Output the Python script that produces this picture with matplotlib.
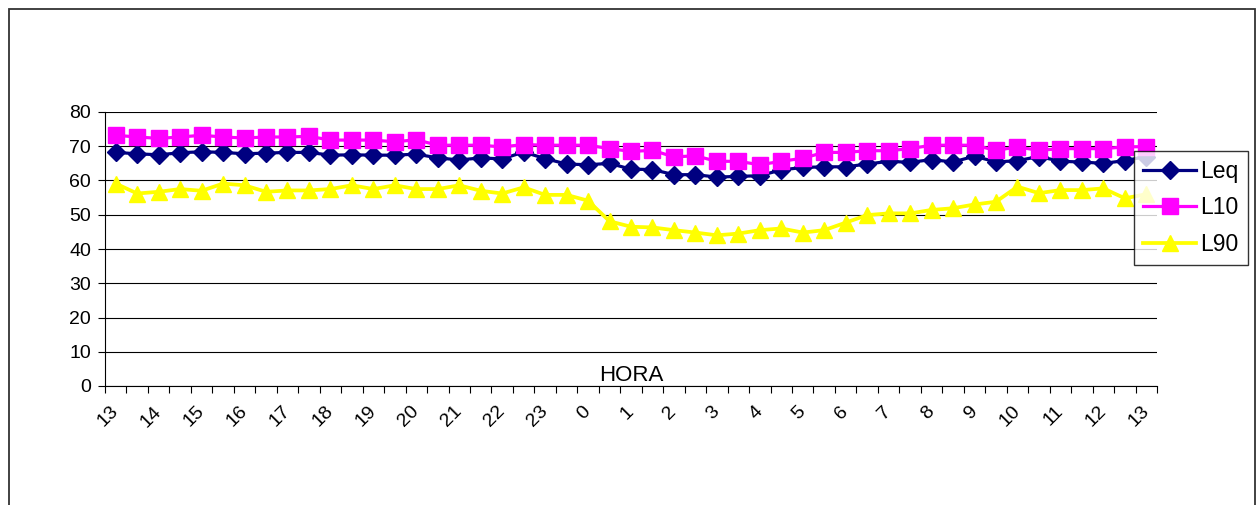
import numpy as np
import matplotlib
matplotlib.use("Agg")
import matplotlib.pyplot as plt
from matplotlib.patches import Rectangle

# horas (cada media hora, de 13 a 13 del dia siguiente)
hours = [13, 14, 15, 16, 17, 18, 19, 20, 21, 22, 23, 0, 1, 2, 3, 4, 5, 6, 7, 8, 9, 10, 11, 12, 13]

leq = [68.2, 67.8, 67.5, 68.1, 68.4, 68.2, 67.8, 68.0, 68.2, 68.2,
       67.4, 67.5, 67.4, 67.4, 67.7, 66.6, 66.0, 66.6, 66.3, 68.3,
       66.4, 64.8, 64.6, 65.0, 63.3, 63.2, 61.7, 61.7, 61.0, 61.2,
       61.4, 63.1, 63.8, 64.0, 64.0, 64.8, 65.6, 65.3, 66.1, 65.4,
       67.1, 65.4, 65.8, 67.0, 65.6, 65.4, 65.0, 65.8, 67.0]

l10 = [73.2, 72.7, 72.3, 72.7, 73.2, 72.7, 72.4, 72.7, 72.7, 72.9,
       71.8, 71.8, 71.8, 71.3, 71.9, 70.3, 70.3, 70.3, 69.8, 70.5,
       70.3, 70.3, 70.3, 69.3, 68.5, 68.8, 66.9, 67.2, 65.6, 65.6,
       64.6, 65.6, 66.5, 68.2, 68.2, 68.7, 68.7, 69.3, 70.3, 70.3,
       70.3, 68.8, 69.8, 68.8, 69.3, 69.3, 69.3, 69.8, 69.9]

l90 = [59.1, 56.2, 56.7, 57.5, 57.0, 59.1, 58.6, 56.7, 57.1, 57.1,
       57.5, 58.6, 57.5, 58.6, 57.5, 57.5, 58.6, 57.0, 56.2, 58.0,
       55.8, 55.8, 54.1, 48.1, 46.5, 46.3, 45.5, 44.8, 44.0, 44.5,
       45.5, 46.0, 44.8, 45.5, 47.7, 49.9, 50.4, 50.4, 51.4, 51.9,
       53.0, 53.8, 58.2, 56.3, 57.2, 57.2, 57.7, 54.8, 56.0]

plt.rcParams['font.family'] = ['Liberation Sans', 'DejaVu Sans']

W, H = 1258, 505
fig = plt.figure(figsize=(W / 100, H / 100), dpi=100)
ax = fig.add_axes([105 / W, 1 - 386 / H, (1157 - 105) / W, (386 - 112) / H])

x = np.arange(len(leq))
ax.plot(x, leq, color='#000080', lw=2.3, marker='D', ms=9, label='Leq', zorder=3)
ax.plot(x, l10, color='#FF00FF', lw=2.3, marker='s', ms=11, label='L10', zorder=4)
ax.plot(x, l90, color='#FFFF00', lw=2.7, marker='^', ms=12, label='L90', zorder=3)

ax.set_xlim(-0.5, len(leq) - 0.5)
ax.set_ylim(0, 80)
ax.set_yticks(np.arange(0, 81, 10))
ax.yaxis.grid(True, color='black', lw=0.8)
ax.set_axisbelow(True)

ax.set_xticks(np.arange(0, len(leq), 2))
ax.set_xticklabels([str(h) for h in hours], rotation=45, ha='right', va='center',
                   rotation_mode='anchor')
ax.set_xticks(np.arange(-0.5, len(leq), 1), minor=True)
ax.tick_params(axis='x', which='major', length=0, pad=16.5, labelsize=14)
ax.tick_params(axis='x', which='minor', length=5, width=0.8, direction='out')
ax.tick_params(axis='y', length=5, width=0.8, direction='out', pad=5, labelsize=14)

for s in ['top', 'right']:
    ax.spines[s].set_visible(False)
for s in ['left', 'bottom']:
    ax.spines[s].set_linewidth(0.8)

ax.set_xlabel('HORA', fontsize=16, va='center')
ax.xaxis.set_label_coords(0.5, 0.038)

leg = ax.legend(loc='upper left', bbox_to_anchor=(1134 / W, 1 - 151 / H),
                bbox_transform=fig.transFigure, fontsize=16.5, frameon=True,
                fancybox=False, shadow=False, borderpad=0.4, labelspacing=0.58,
                handlelength=2.3, handletextpad=0.2, borderaxespad=0)
leg.get_frame().set_edgecolor('black')
leg.get_frame().set_linewidth(1.0)
leg.set_zorder(10)

# marco del grafico
fig.add_artist(Rectangle((9 / W, -0.1), (1255 - 9) / W, 1 - 9 / H + 0.1,
                         transform=fig.transFigure, fill=False,
                         ec='#333333', lw=1.3))

fig.savefig('out.png', dpi=100)
